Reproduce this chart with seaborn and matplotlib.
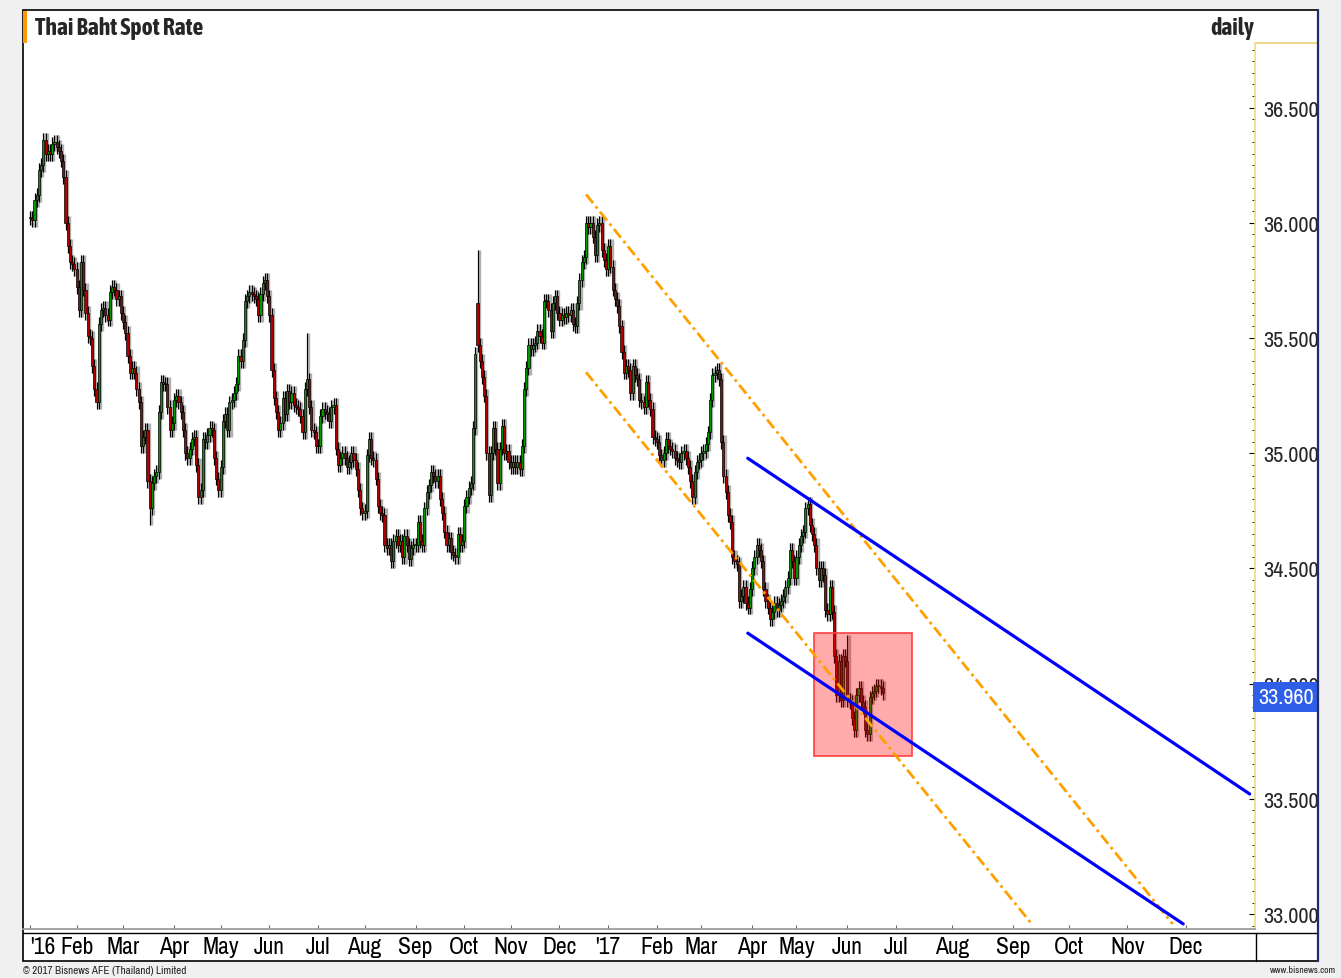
import numpy as np
import pandas as pd
import seaborn as sns
import matplotlib.pyplot as plt
from matplotlib.patches import Rectangle
from matplotlib.lines import Line2D
from matplotlib.ticker import MultipleLocator, FormatStrFormatter
import matplotlib.transforms as mtrans

# daily closing rate (THB per USD), one list per month
jan16 = [36.02, 36.01, 36.10, 36.12, 36.23, 36.25, 36.36, 36.30, 36.31, 36.30, 36.34,
         36.35, 36.33, 36.31, 36.27, 36.20, 36.00, 35.90, 35.83, 35.82, 35.80]
feb16 = [35.72, 35.62, 35.83, 35.71, 35.61, 35.51, 35.50, 35.38, 35.28, 35.22, 35.56,
         35.62, 35.63, 35.60, 35.58, 35.70, 35.72, 35.71, 35.67, 35.68, 35.61]
mar16 = [35.57, 35.52, 35.42, 35.35, 35.37, 35.35, 35.28, 35.22, 35.03, 35.07, 35.10,
         34.88, 34.76, 34.87, 34.90, 34.92, 35.18, 35.31, 35.30, 35.30, 35.20, 35.10, 35.13]
apr16 = [35.23, 35.25, 35.22, 35.18, 35.10, 35.00, 34.98, 35.02, 35.06, 35.07, 34.95,
         34.81, 34.84, 35.06, 35.05, 35.08, 35.11, 35.10, 34.98, 34.89, 34.84]
may16 = [34.94, 35.14, 35.17, 35.10, 35.22, 35.23, 35.26, 35.30, 35.42, 35.40, 35.49,
         35.66, 35.68, 35.70, 35.69, 35.68, 35.67, 35.60, 35.69, 35.74, 35.75, 35.68]
jun16 = [35.60, 35.36, 35.24, 35.18, 35.10, 35.13, 35.24, 35.17, 35.27, 35.22, 35.26,
         35.21, 35.20, 35.19, 35.16, 35.09, 35.28, 35.32, 35.20, 35.10, 35.09, 35.03]
jul16 = [35.03, 35.16, 35.19, 35.18, 35.17, 35.14, 35.20, 35.21, 35.02, 34.95, 34.98,
         35.00, 34.98, 34.94, 34.96, 35.00, 34.97, 34.93, 34.84, 34.76, 34.74]
aug16 = [34.75, 34.99, 35.06, 34.98, 34.97, 34.89, 34.77, 34.74, 34.73, 34.60, 34.59,
         34.60, 34.53, 34.62, 34.64, 34.60, 34.62, 34.55, 34.64, 34.60, 34.54, 34.59, 34.60]
sep16 = [34.60, 34.70, 34.62, 34.60, 34.76, 34.83, 34.86, 34.92, 34.90, 34.88, 34.90,
         34.80, 34.74, 34.66, 34.60, 34.63, 34.57, 34.56, 34.55, 34.65, 34.60, 34.62]
oct16 = [34.77, 34.81, 34.85, 34.87, 35.11, 35.43, 35.47, 35.40, 35.33, 35.25, 35.00,
         34.82, 35.00, 35.11, 35.02, 34.87, 35.02, 35.12, 35.00, 35.01, 34.96]
nov16 = [34.94, 34.96, 34.94, 34.96, 34.93, 35.03, 35.28, 35.37, 35.47, 35.45, 35.47,
         35.48, 35.53, 35.51, 35.48, 35.66, 35.66, 35.62, 35.53, 35.65, 35.68, 35.61]
dec16 = [35.58, 35.60, 35.59, 35.61, 35.60, 35.62, 35.56, 35.55, 35.65, 35.75, 35.83,
         35.85, 36.00, 35.98, 36.00, 35.94, 35.86, 35.99, 36.00, 35.88, 35.84, 35.80]
jan17 = [35.90, 35.81, 35.71, 35.67, 35.64, 35.55, 35.44, 35.35, 35.38, 35.36, 35.26,
         35.38, 35.34, 35.32, 35.23, 35.22, 35.20, 35.31, 35.23, 35.19, 35.07, 35.06]
feb17 = [35.05, 34.99, 34.97, 35.00, 35.06, 35.03, 35.02, 35.01, 34.98, 34.97,
         34.96, 35.00, 35.01, 34.98, 34.94, 34.88, 34.81, 34.92, 34.96, 34.97]
mar17 = [35.00, 35.01, 35.04, 35.09, 35.23, 35.34, 35.35, 35.36, 35.32, 35.05, 34.90,
         34.83, 34.73, 34.70, 34.55, 34.53, 34.52, 34.36, 34.38, 34.42, 34.35, 34.33, 34.41]
apr17 = [34.50, 34.55, 34.60, 34.58, 34.53, 34.41, 34.36, 34.33, 34.28, 34.31,
         34.35, 34.32, 34.34, 34.36, 34.38, 34.42, 34.46, 34.58, 34.53, 34.46]
may17 = [34.55, 34.60, 34.64, 34.66, 34.76, 34.78, 34.69, 34.65, 34.60, 34.50, 34.45,
         34.50, 34.47, 34.32, 34.30, 34.42, 34.31, 34.12, 33.95, 34.10, 33.93, 34.12, 34.10]
jun17 = [33.93, 33.92, 33.85, 33.80, 33.95, 33.98, 33.92, 33.90, 33.80, 33.78, 33.94,
         33.96, 33.97, 33.99, 33.99, 33.98, 33.96]

first_day = '2016-01-01'
gap_opens = {'2016-10-11': 35.65}
wick_highs = {'2016-06-24': 35.52, '2016-10-11': 35.88, '2017-06-01': 34.21}
wick_lows = {'2016-03-17': 34.69}

# trend lines drawn on the chart: start date, start price, end date, end price
orange_upper = ['2016-12-19', 36.123, '2017-11-24', 32.957]
orange_lower = ['2016-12-19', 35.351, '2017-09-12', 32.957]
blue_upper = ['2017-03-30', 34.978, '2018-01-04', 33.521]
blue_lower = ['2017-03-30', 34.219, '2017-11-30', 32.957]
box_dates = ['2017-05-11', '2017-07-11']
box_prices = [33.686, 34.219]

month_labels = ["'16", 'Feb', 'Mar', 'Apr', 'May', 'Jun', 'Jul', 'Aug', 'Sep', 'Oct', 'Nov', 'Dec',
                "'17", 'Feb', 'Mar', 'Apr', 'May', 'Jun', 'Jul', 'Aug', 'Sep', 'Oct', 'Nov', 'Dec']
last_label = '33.960'
last_price = 33.96

# ---- x scale: trading days, the empty future part is drawn a bit wider
split = np.busday_count(first_day, '2017-07-03')


def xpos(d):
    d = np.array(pd.to_datetime(np.atleast_1d(d)), dtype='datetime64[D]')
    i = np.busday_count(np.datetime64(first_day), d)
    return np.where(i <= split, i, split + (i - split) * 1.2).astype(float)


closes = np.array(jan16 + feb16 + mar16 + apr16 + may16 + jun16 + jul16 + aug16 + sep16
                  + oct16 + nov16 + dec16 + jan17 + feb17 + mar17 + apr17 + may17 + jun17)
dates = pd.bdate_range(first_day, periods=len(closes))
df = pd.DataFrame({'date': dates, 'close': closes})
df['open'] = df['close'].shift(1).fillna(df['close'].iloc[0])
for d, v in gap_opens.items():
    df.loc[df.date == d, 'open'] = v
df['high'] = df[['open', 'close']].max(axis=1) + 0.03
df['low'] = df[['open', 'close']].min(axis=1) - 0.03
for d, v in wick_highs.items():
    df.loc[df.date == d, 'high'] = v
for d, v in wick_lows.items():
    df.loc[df.date == d, 'low'] = v
df['x'] = xpos(df['date'])

sns.set_theme(style='white')
plt.rcParams['font.family'] = ['Archivo Narrow', 'Liberation Sans', 'DejaVu Sans']
bold_family = ['Asap Condensed', 'Archivo Narrow', 'Liberation Sans', 'DejaVu Sans']

W, H = 1341, 979
fig = plt.figure(figsize=(W / 100, H / 100), dpi=100)
fig.patch.set_facecolor('#f0f0f0')


def fx(px):
    return px / W


def fy(py):
    return 1 - py / H


# white chart panel
fig.add_artist(Rectangle((fx(23), fy(962)), fx(1318) - fx(23), fy(11) - fy(962),
                         transform=fig.transFigure, facecolor='white', edgecolor='black',
                         linewidth=1.2, zorder=0))
fig.add_artist(Rectangle((fx(23), fy(44)), fx(27) - fx(23), fy(12) - fy(44),
                         transform=fig.transFigure, facecolor='#ff9900', edgecolor='none', zorder=1))

ax = fig.add_axes([fx(23), fy(930), fx(1255) - fx(23), fy(44) - fy(930)])
ax.set_facecolor('none')

# candles
up = df['close'] >= df['open']
colors = np.where(up, '#009a00', '#b00000')
ax.vlines(df['x'] + 0.5, df['low'], df['high'], color='#b0b0b0', linewidth=2.4, zorder=1)
ax.vlines(df['x'], df['low'], df['high'], color='black', linewidth=0.8, zorder=2)
ax.bar(df['x'], np.maximum((df['close'] - df['open']).abs(), 0.006),
       bottom=df[['open', 'close']].min(axis=1), width=0.95, color=colors,
       edgecolor='black', linewidth=0.5, zorder=3)

# highlighted zone
bx = xpos(box_dates)
ax.add_patch(Rectangle((bx[0], box_prices[0]), bx[1] - bx[0], box_prices[1] - box_prices[0],
                       facecolor=(1, 0, 0, 0.33), edgecolor=(1, 0.25, 0.25, 1),
                       linewidth=1.2, zorder=4))

# trend lines
rows = []
for name, kind, ln in [('ou', 'orange', orange_upper), ('ol', 'orange', orange_lower),
                       ('bu', 'blue', blue_upper), ('bl', 'blue', blue_lower)]:
    rows.append({'line': name, 'kind': kind, 'x': xpos(ln[0])[0], 'price': ln[1]})
    rows.append({'line': name, 'kind': kind, 'x': xpos(ln[2])[0], 'price': ln[3]})
trend = pd.DataFrame(rows)
sns.lineplot(data=trend[trend.kind == 'orange'], x='x', y='price', units='line',
             estimator=None, color='#ffa000', linewidth=2.0,
             linestyle=(0, (4, 1.5, 1, 1.5)), legend=False, ax=ax, zorder=5)
sns.lineplot(data=trend[trend.kind == 'blue'], x='x', y='price', units='line',
             estimator=None, color='#0000ff', linewidth=2.3, legend=False, ax=ax, zorder=6)

# axes
ax.set_xlim(-3.2, xpos('2018-01-08')[0])
ax.set_ylim(32.935, 36.78)
ax.set_xlabel('')
ax.set_ylabel('')
month_starts = pd.date_range('2016-01-01', '2017-12-01', freq='BMS')
ax.set_xticks(xpos(month_starts))
ax.set_xticklabels(month_labels, fontsize=17)
ax.get_xticklabels()[0].set_horizontalalignment('left')
ax.tick_params(axis='x', direction='in', length=3, width=0.8, color='#666666', pad=5,
               bottom=True, labelcolor='black')
ax.yaxis.tick_right()
ax.yaxis.set_major_locator(MultipleLocator(0.5))
ax.yaxis.set_minor_locator(MultipleLocator(0.05))
ax.yaxis.set_major_formatter(FormatStrFormatter('%.3f'))
ax.tick_params(axis='y', which='major', direction='in', length=4, width=0.8, color='black',
               right=True, left=False, labelright=True, labelleft=False, labelsize=16, pad=6)
ax.tick_params(axis='y', which='minor', direction='in', length=2, width=0.6, color='black',
               right=True, left=False)
for s in ['top', 'left']:
    ax.spines[s].set_visible(False)
ax.spines['right'].set_color('#efd98a')
ax.spines['right'].set_linewidth(1.2)
ax.spines['bottom'].set_color('#999999')
ax.grid(False)

# last value tag
tr = mtrans.blended_transform_factory(ax.transAxes, ax.transData)
ax.annotate(last_label, xy=(1.0, last_price), xycoords=tr, xytext=(2, -3),
            textcoords='offset points', ha='left', va='center', fontsize=16,
            color='white', annotation_clip=False, zorder=10,
            bbox=dict(boxstyle='square,pad=0.22', facecolor='#2f5fe8', edgecolor='none'))

# frame pieces
fig.add_artist(Line2D([fx(1256), fx(1318)], [fy(43.5), fy(43.5)], transform=fig.transFigure,
                      color='#efd98a', linewidth=1.5))
fig.add_artist(Line2D([fx(23), fx(1318)], [fy(934), fy(934)], transform=fig.transFigure,
                      color='black', linewidth=1))
fig.add_artist(Line2D([fx(1256), fx(1256)], [fy(934), fy(962)], transform=fig.transFigure,
                      color='black', linewidth=1))
fig.add_artist(Line2D([fx(1318), fx(1318)], [fy(11), fy(962)], transform=fig.transFigure,
                      color='#1f2d6b', linewidth=1.6))

fig.text(fx(35), fy(28), 'Thai Baht Spot Rate', fontsize=17, fontweight='bold', va='center',
         family=bold_family)
fig.text(fx(1232), fy(28), 'daily', fontsize=17, fontweight='bold', va='center', ha='center',
         family=bold_family)
fig.text(fx(23), fy(971), '\u00a9 2017 Bisnews AFE (Thailand) Limited', fontsize=8,
         va='center', color='#222222')
fig.text(fx(1336), fy(971), 'www.bisnews.com', fontsize=7, va='center', ha='right',
         color='#222222')

fig.savefig('out.png', dpi=100, facecolor=fig.get_facecolor())
